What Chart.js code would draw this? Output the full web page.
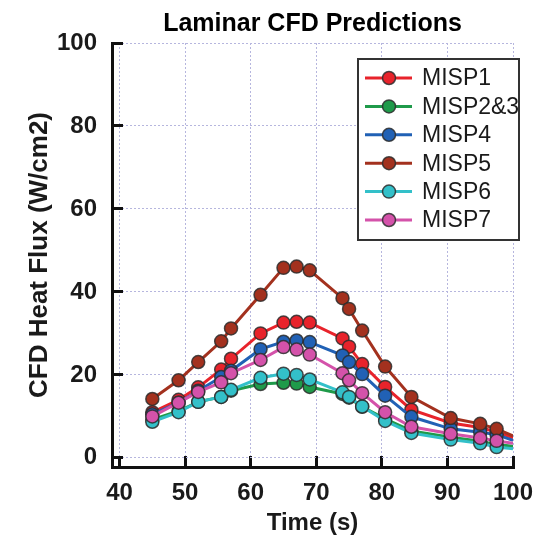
<!DOCTYPE html>
<html><head><meta charset="utf-8">
<script src="https://cdn.jsdelivr.net/npm/chart.js@4.4.1/dist/chart.umd.min.js"></script>
<style>html,body{margin:0;padding:0;background:#fff}canvas{display:block}</style>
</head><body>
<canvas id="c" width="542" height="538"></canvas>
<script>
// ---- data ----
const times  = [45, 49, 52, 55.5, 57, 61.5, 65, 67, 69, 74, 75, 77, 80.5, 84.5, 90.5, 95, 97.5, 100];
const misp1  = [11.0, 14.0, 17.0, 21.3, 23.9, 30.0, 32.6, 32.8, 32.6, 28.8, 26.8, 22.6, 17.1, 11.6, 8.4, 7.3, 6.2, 4.8];
const misp23 = [9.2, 11.3, 13.5, 14.7, 16.2, 17.8, 18.1, 17.9, 17.1, 15.4, 14.5, 12.3, 9.4, 6.5, 5.0, 4.0, 3.2, 2.8];
const misp4  = [10.5, 13.3, 16.2, 19.5, 21.0, 26.2, 28.0, 28.3, 27.9, 24.7, 23.1, 20.2, 15.0, 9.9, 7.0, 6.2, 5.6, 4.2];
const misp5  = [14.2, 18.7, 23.1, 28.1, 31.2, 39.3, 45.8, 46.1, 45.2, 38.5, 35.9, 30.7, 22.0, 14.7, 9.6, 8.2, 7.0, 5.3];
const misp6  = [8.7, 11.0, 13.5, 14.7, 16.4, 19.3, 20.3, 20.0, 18.9, 15.8, 14.7, 12.4, 8.9, 6.0, 4.4, 3.5, 2.6, 2.2];
const misp7  = [10.0, 13.3, 15.9, 18.2, 20.4, 23.6, 26.7, 26.1, 24.9, 20.4, 18.7, 15.6, 11.0, 7.5, 5.8, 4.8, 4.1, 3.5];
const seriesNames  = ['MISP1', 'MISP2&3', 'MISP4', 'MISP5', 'MISP6', 'MISP7'];
const seriesValues = [misp1, misp23, misp4, misp5, misp6, misp7];
const seriesColors = ['#e8232b', '#1f9a4a', '#2161b5', '#a3311e', '#33c0c9', '#d452aa'];
const xTicks = [40, 50, 60, 70, 80, 90, 100];
const yTicks = [0, 20, 40, 60, 80, 100];

const FONT = '"Liberation Sans", Arial, Helvetica, sans-serif';
const MARKER_EDGE = 'rgba(45,45,45,0.85)';

const datasets = seriesNames.map((name, i) => ({
  label: name,
  data: times.map((t, j) => ({x: t, y: seriesValues[i][j]})),
  borderColor: seriesColors[i],
  backgroundColor: seriesColors[i],
  pointBackgroundColor: seriesColors[i],
  pointBorderColor: MARKER_EDGE,
  pointBorderWidth: 1.5,
  pointRadius: ctx => (ctx.raw && ctx.raw.x >= 100 ? 0 : 6.5),
  borderWidth: 3,
  tension: 0,
  order: seriesNames.length - i
}));

const legendPlugin = {
  id: 'boxLegend',
  afterDraw(chart) {
    const ctx = chart.ctx;
    const a = chart.chartArea;
    const left = a.right - 155, top = a.top + 16, w = 161, h = 181;
    ctx.save();
    ctx.fillStyle = '#fff';
    ctx.fillRect(left, top, w, h);
    ctx.lineWidth = 2;
    ctx.strokeStyle = '#333';
    ctx.strokeRect(left, top, w, h);
    ctx.font = '23px ' + FONT;
    ctx.textBaseline = 'middle';
    ctx.textAlign = 'left';
    seriesNames.forEach((name, i) => {
      const y = top + 19 + i * 28.4;
      ctx.strokeStyle = seriesColors[i];
      ctx.lineWidth = 3;
      ctx.beginPath();
      ctx.moveTo(left + 7, y);
      ctx.lineTo(left + 54, y);
      ctx.stroke();
      ctx.beginPath();
      ctx.arc(left + 31, y, 6.5, 0, Math.PI * 2);
      ctx.fillStyle = seriesColors[i];
      ctx.fill();
      ctx.lineWidth = 1.5;
      ctx.strokeStyle = MARKER_EDGE;
      ctx.stroke();
      ctx.fillStyle = '#1a1a1a';
      ctx.fillText(name, left + 64, y + 1);
    });
    ctx.restore();
  }
};

const gridCommon = {
  color: '#b6b6de',
  lineWidth: 1,
  drawTicks: true,
  tickLength: -11,
  tickColor: '#111',
  tickWidth: 3,
  tickBorderDash: []
};
const borderCommon = {color: '#111', width: 3, dash: [2, 2]};

new Chart(document.getElementById('c'), {
  type: 'line',
  data: {datasets},
  options: {
    responsive: false,
    animation: false,
    layout: {padding: {top: 0, right: 29, bottom: 0, left: 0}},
    plugins: {
      legend: {display: false},
      tooltip: {enabled: false},
      title: {
        display: true,
        text: 'Laminar CFD Predictions',
        fullSize: false,
        color: '#000',
        font: {family: FONT, size: 25, weight: 'bold', lineHeight: 1.2},
        padding: {top: 9, bottom: 4}
      }
    },
    scales: {
      x: {
        type: 'linear',
        min: 38.85,
        max: 100,
        afterBuildTicks: s => { s.ticks = xTicks.map(v => ({value: v})); },
        afterFit: s => { s.height = 71; s.paddingLeft = 0; s.paddingRight = 0; },
        ticks: {
          color: '#1a1a1a',
          font: {family: FONT, size: 24, weight: 'bold'},
          padding: 23,
          autoSkip: false,
          maxRotation: 0
        },
        grid: gridCommon,
        border: borderCommon,
        title: {
          display: true,
          text: 'Time (s)',
          color: '#1a1a1a',
          font: {family: FONT, size: 24, weight: 'bold', lineHeight: 1.2},
          padding: {top: 0, bottom: 0}
        }
      },
      y: {
        type: 'linear',
        min: -2.2,
        max: 100,
        afterBuildTicks: s => { s.ticks = yTicks.map(v => ({value: v})); },
        afterFit: s => { s.width = 112; },
        ticks: {
          color: '#1a1a1a',
          font: {family: FONT, size: 24, weight: 'bold'},
          padding: 26
        },
        grid: gridCommon,
        border: borderCommon,
        title: {
          display: true,
          text: 'CFD Heat Flux (W/cm2)',
          color: '#1a1a1a',
          font: {family: FONT, size: 26, weight: 'bold', lineHeight: 1.2},
          padding: {top: 24, bottom: 0}
        }
      }
    }
  },
  plugins: [legendPlugin]
});
</script>
</body></html>
